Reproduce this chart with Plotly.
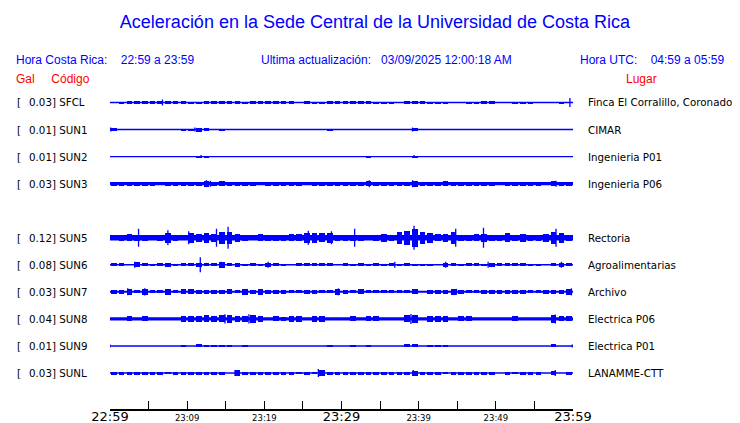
import plotly.graph_objects as go

# ---------------- data ----------------
stations = ["SFCL", "SUN1", "SUN2", "SUN3", "SUN5", "SUN6", "SUN7", "SUN8", "SUN9", "SUNL"]
gal = ["0.03", "0.01", "0.01", "0.03", "0.12", "0.08", "0.03", "0.04", "0.01", "0.03"]
places = ["Finca El Corralillo, Coronado", "CIMAR", "Ingenieria P01", "Ingenieria P06",
          "Rectoria", "Agroalimentarias", "Archivo", "Electrica P06", "Electrica P01", "LANAMME-CTT"]
minutes = list(range(60))
tick_minutes = [0, 10, 20, 30, 40, 50, 60]
tick_labels = ["22:59", "23:09", "23:19", "23:29", "23:39", "23:49", "23:59"]
big_ticks = ["22:59", "23:29", "23:59"]

# continuous band half-height of each trace (px)
floor_sfcl, floor_sun1, floor_sun2, floor_sun3, floor_sun5 = 0.5, 0.5, 0.5, 1.7, 2.8
floor_sun6, floor_sun7, floor_sun8, floor_sun9, floor_sunl = 0.5, 1.0, 1.7, 0.5, 0.7

# per-minute envelope half-height (px)
env_sfcl = [0, 1, 1.5, 1.5, 1.5, 1.7, 1.5, 1.5, 1.5, 1.5, 1, 1, 1.5, 1.5, 1.5, 1.5, 1.5, 1, 1.7, 1.7,
            1.5, 1.5, 1.5, 1.5, 0, 1.5, 1, 1, 1.5, 1.7, 1.7, 1.7, 1.5, 1.5, 1, 1, 1, 0, 1.5, 1.7,
            1.7, 1, 1, 1, 0, 0, 1, 1, 1.5, 1.5, 0, 0, 1, 1, 1, 0, 0, 0, 1, 0]
env_sun1 = [1.5, 0, 0, 0, 0, 0, 0, 0, 0, 1, 1, 2, 1.7, 0, 1, 0, 0, 0, 0, 0,
            0, 0, 0, 0, 0, 0, 0, 0, 0.7, 0, 0, 0, 0, 0, 0, 0, 0, 0, 0, 1.5,
            0, 0, 0, 0, 0, 0, 0, 0, 0, 0, 0, 0, 0, 0, 0, 0, 0, 0, 0, 0]
env_sun2 = [0, 0, 0, 0, 0, 0, 0, 0, 0, 0, 0, 1, 1, 0, 0, 0, 0, 0, 0, 0,
            0, 0, 0, 0, 0, 0, 0, 0, 0, 0, 0, 0, 0, 1, 0, 0, 0, 0, 0, 1,
            0, 0, 0, 0, 0, 0, 0, 0, 0, 0, 0, 0, 0, 0, 0, 0, 0, 0, 0, 0]
env_sun3 = [2, 2, 2, 2, 2, 2, 1.5, 2, 2, 2, 2, 2, 3, 2, 2.5, 2, 2, 2, 2, 1.5,
            2, 2, 2, 2, 2, 1.2, 2, 2, 2, 2, 2, 2, 2, 2.5, 2, 2, 2, 2, 2, 3,
            2, 2, 2, 2.5, 2, 2, 2, 2, 2, 2, 1.5, 2, 2, 2, 2, 2, 1.5, 2.5, 2, 2]
env_sun5 = [2.5, 3, 3.5, 3, 3, 2.5, 3, 5, 3, 2.5, 5, 4, 5, 4, 6, 6, 4, 3, 2.5, 3.5,
            3, 3, 3, 3.5, 3.5, 5, 5, 4.5, 5, 3, 3, 3, 3, 2.5, 3, 4, 3, 6, 7, 9,
            6, 5, 3.5, 4, 6, 3, 3, 3.5, 4, 3, 3, 4.5, 3, 4, 3, 3, 4, 6, 5, 3]
env_sun6 = [1.5, 1.5, 0, 2.5, 1.5, 1, 1.5, 2, 1, 1.5, 1.5, 2, 1.5, 1.5, 3, 1.5, 2, 1, 1.5, 1,
            2, 1.5, 1, 0, 1.5, 1.5, 1.5, 1.5, 1.5, 0, 1.5, 1, 1.5, 1, 1.5, 1, 1.5, 1, 1.5, 1,
            1, 1, 0, 2, 1.5, 1, 1.5, 1.5, 1, 2, 1.5, 1.5, 1.5, 1.5, 1, 1, 0, 1.5, 2, 1.5]
env_sun7 = [2, 2, 3, 1.5, 3, 1.5, 1.5, 3, 1.5, 2.5, 2.5, 2, 2, 2, 2, 2.5, 1.5, 3, 2, 3,
            2, 2, 2, 1.5, 1.5, 2, 2, 1.5, 1.5, 3, 2, 1.5, 2.5, 1.5, 1.5, 1.5, 1.5, 1.5, 1.5, 2.5,
            1, 2, 2, 2, 3, 2, 1.5, 1.5, 2, 2, 2, 2, 2, 2, 1.5, 1.5, 2, 2, 2, 3]
env_sun8 = [1.7, 1.7, 2.5, 1.7, 2.5, 1.7, 1.7, 1.7, 1.7, 3, 3, 3, 3.5, 3, 3.5, 4, 3, 3, 4, 3,
            1.7, 2.5, 2, 3, 3, 1.7, 3, 3, 1.7, 1.7, 1.7, 2.5, 1.7, 2.5, 2.5, 1.7, 1.7, 1.7, 3.5, 4,
            1.7, 3, 3, 3, 1.7, 2.5, 2.5, 1.7, 1.7, 1.7, 1.7, 1.7, 2.5, 1.7, 1.7, 1.7, 1.7, 4, 2.5, 2.5]
env_sun9 = [0, 0, 0, 0, 0, 0, 0, 0, 0, 1, 0, 1.5, 1, 1, 1, 1, 0, 1, 0, 0,
            0, 0, 0, 0, 0, 0, 0, 0, 1, 0, 0, 1, 0, 1, 0, 0, 0, 0, 1.5, 1.5,
            0, 1, 1, 1, 0, 0, 0, 0, 0, 0, 0, 0, 0, 0, 0, 0, 0, 1.5, 0, 0]
env_sunl = [1.5, 1.5, 1.5, 1.5, 1.5, 1.5, 1.5, 1, 1.5, 1.5, 1.5, 1.5, 1.5, 1.5, 1.5, 0.7, 3, 1.5, 1.5, 1.5,
            1.5, 1.5, 1.5, 1.5, 1, 1.5, 1, 3, 1.5, 1.5, 1.5, 1.5, 1.5, 1.5, 1.5, 1.5, 1.5, 1.5, 1.5, 2.5,
            1.5, 1.5, 1.5, 1, 1.5, 1.5, 1.5, 1.5, 1.5, 1.5, 0.7, 1.5, 1, 1.5, 1.5, 1.5, 0.7, 2, 0.7, 1.5]

# isolated spikes: time (minutes from 22:59) and half-height (px)
spk_t_sfcl, spk_a_sfcl = [6.8, 59.6], [3, 4.5]
spk_t_sun1, spk_a_sun1 = [0.1, 11.0, 39.2], [2, 2, 2]
spk_t_sun2, spk_a_sun2 = [11.8, 39.4], [1.5, 1.5]
spk_t_sun3, spk_a_sun3 = [12.5, 13.0, 33.6, 39.2, 57.8], [3.5, 3, 3.5, 3.5, 3]
spk_t_sun5, spk_a_sun5 = [3.7, 7.5, 10.2, 13.8, 15.3, 25.7, 28.7, 31.7, 39.4, 44.8, 48.4, 57.8], \
                         [9, 7.5, 6.5, 9, 11, 7, 6.5, 9, 12, 9, 10, 9]
spk_t_sun6, spk_a_sun6 = [3.2, 11.7, 14.4, 20.5, 36.9, 43.5, 49.0, 58.5], [3, 7.5, 3, 3, 3, 3, 3, 3]
spk_t_sun7, spk_a_sun7 = [2.3, 4.5, 17.7, 29.6, 44.9, 59.8], [3.5, 3.7, 3, 3.5, 3, 3.5]
spk_t_sun8, spk_a_sun8 = [14.9, 18.0, 39.0, 57.7], [4.7, 4.7, 5, 4.5]
spk_t_sun9, spk_a_sun9 = [0.0, 59.9], [1.5, 1.5]
spk_t_sunl, spk_a_sunl = [16.2, 27.0, 39.3, 57.7], [3, 4, 3, 3]

floors = [floor_sfcl, floor_sun1, floor_sun2, floor_sun3, floor_sun5,
          floor_sun6, floor_sun7, floor_sun8, floor_sun9, floor_sunl]
envs = [env_sfcl, env_sun1, env_sun2, env_sun3, env_sun5, env_sun6, env_sun7, env_sun8, env_sun9, env_sunl]
spikes = [(spk_t_sfcl, spk_a_sfcl), (spk_t_sun1, spk_a_sun1), (spk_t_sun2, spk_a_sun2),
          (spk_t_sun3, spk_a_sun3), (spk_t_sun5, spk_a_sun5), (spk_t_sun6, spk_a_sun6),
          (spk_t_sun7, spk_a_sun7), (spk_t_sun8, spk_a_sun8), (spk_t_sun9, spk_a_sun9),
          (spk_t_sunl, spk_a_sunl)]

# ---------------- layout geometry ----------------
OFF = 8                      # page body margin
W, H = 740 - OFF, 423 - OFF
L, R, T, B = 110 - OFF, 573 - OFF, 88 - OFF, 409 - OFF   # plot area in px
BLUE = "#0000ff"
RED = "#ff0000"
ROW0, ROWSTEP = 14.5, 27.05      # px below plot top


def row_center(i):
    slot = i + (1 if i >= 4 else 0)   # empty slot where SUN4 would be
    return -(ROW0 + ROWSTEP * slot)


def px(x):   # reference page px -> paper coords
    return (x - OFF - L) / (R - L)


def py(y):
    return (B - (y - OFF)) / (B - T)


fig = go.Figure()

for i, st in enumerate(stations):
    yc = row_center(i)
    fl = floors[i]
    fig.add_trace(go.Scatter(x=[0, 60], y=[yc, yc], mode="lines",
                             line=dict(color=BLUE, width=max(1.4, 2 * fl)),
                             hoverinfo="skip", showlegend=False))
    xs, bases, hs = [], [], []
    for m, a in zip(minutes, envs[i]):
        if a > fl:
            xs.append(m + 0.5)
            bases.append(yc - a)
            hs.append(2 * a)
    if xs:
        fig.add_trace(go.Bar(x=xs, y=hs, base=bases, width=0.72,
                             marker=dict(color=BLUE, line=dict(width=0)),
                             hoverinfo="skip", showlegend=False))
    sx, sy = [], []
    for t, a in zip(*spikes[i]):
        sx += [t, t, None]
        sy += [yc - a, yc + a, None]
    fig.add_trace(go.Scatter(x=sx, y=sy, mode="lines", line=dict(color=BLUE, width=1.3),
                             hoverinfo="skip", showlegend=False))

lfont = dict(family="DejaVu Sans", size=10.3, color="black")
for i, st in enumerate(stations):
    ypix = T - row_center(i) + OFF
    fig.add_annotation(x=px(15), y=py(ypix), xref="paper", yref="paper", xanchor="left",
                       yanchor="middle", showarrow=False, text="[", font=lfont)
    fig.add_annotation(x=px(27), y=py(ypix), xref="paper", yref="paper", xanchor="left",
                       yanchor="middle", showarrow=False, text=f"{gal[i]}] {st}", font=lfont)
    fig.add_annotation(x=px(586), y=py(ypix), xref="paper", yref="paper", xanchor="left",
                       yanchor="middle", showarrow=False, text=places[i], font=lfont)

hfont = dict(family="Liberation Sans", size=12, color=BLUE)
fig.add_annotation(x=px(14), y=py(60), xref="paper", yref="paper", xanchor="left", yanchor="middle",
                   showarrow=False, text="Hora Costa Rica:\u00a0\u00a0\u00a0 22:59 a 23:59", font=hfont)
fig.add_annotation(x=px(259), y=py(60), xref="paper", yref="paper", xanchor="left", yanchor="middle",
                   showarrow=False, text="Ultima actualización:\u00a0\u00a0 03/09/2025 12:00:18 AM", font=hfont)
fig.add_annotation(x=px(726), y=py(60), xref="paper", yref="paper", xanchor="right", yanchor="middle",
                   showarrow=False, text="Hora UTC:\u00a0\u00a0\u00a0 04:59 a 05:59", font=hfont)
rfont = dict(family="Liberation Sans", size=12, color=RED)
fig.add_annotation(x=px(14), y=py(79), xref="paper", yref="paper", xanchor="left", yanchor="middle",
                   showarrow=False, text="Gal\u00a0\u00a0\u00a0\u00a0 Código", font=rfont)
fig.add_annotation(x=px(659), y=py(79), xref="paper", yref="paper", xanchor="right", yanchor="middle",
                   showarrow=False, text="Lugar", font=rfont)

ticktext = []
tv = list(range(0, 61, 5))
for v in tv:
    if v in tick_minutes:
        lab = tick_labels[tick_minutes.index(v)]
        if lab in big_ticks:
            ticktext.append(f"<span style='font-size:13px'>{lab}</span>")
        else:
            ticktext.append(lab)
    else:
        ticktext.append("")

fig.update_layout(
    width=W, height=H,
    margin=dict(l=L, r=W - R, t=T, b=H - B, pad=0, autoexpand=False),
    paper_bgcolor="white", plot_bgcolor="white",
    barmode="overlay", bargap=0,
    title=dict(text="Aceleración en la Sede Central de la Universidad de Costa Rica",
               x=(375 - OFF) / W, xanchor="center", y=1 - (22 - OFF) / H, yanchor="middle",
               font=dict(family="Liberation Sans", size=18, color=BLUE)),
    xaxis=dict(range=[0, 60], tickvals=tv, ticktext=ticktext, ticks="inside", ticklen=8,
               tickwidth=1, tickcolor="black", showline=True, linecolor="black", linewidth=1.5,
               showgrid=False, zeroline=False, automargin=False,
               tickfont=dict(family="DejaVu Sans", size=8.5, color="black"),
               fixedrange=True),
    yaxis=dict(range=[-(B - T), 0], visible=False, showgrid=False, zeroline=False,
               automargin=False, fixedrange=True),
)

fig.write_html("out.html")
